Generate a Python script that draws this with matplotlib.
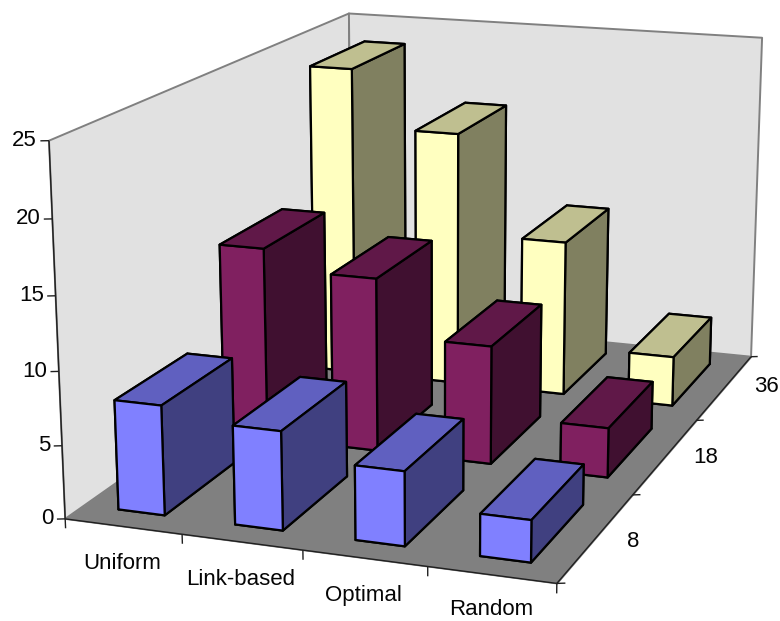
import numpy as np
import matplotlib
matplotlib.use("Agg")
import matplotlib.pyplot as plt
from mpl_toolkits.mplot3d import Axes3D
from mpl_toolkits.mplot3d.art3d import Poly3DCollection, Line3DCollection

plt.rcParams["font.family"] = ["Liberation Sans", "DejaVu Sans"]

W, H = 780, 621

methods = ["Uniform", "Link-based", "Optimal", "Random"]
series = ["8", "18", "36"]
z_ticks = [0, 5, 10, 15, 20, 25]
z_max = 25

vals_8 = [7.5, 6.7, 5.0, 2.8]
vals_18 = [13.8, 12.4, 8.4, 3.5]
vals_36 = [23.4, 19.1, 11.6, 3.7]
all_vals = [vals_8, vals_18, vals_36]

front_cols = ["#8080FF", "#802060", "#FFFFC0"]
top_cols = ["#6060C0", "#601848", "#BFBF90"]
side_cols = ["#404080", "#401030", "#808060"]

nx, ny = len(methods), len(series)

# box corners (data) and where they land on the canvas
box_pts = [(0, 0, 0), (nx, 0, 0), (nx, ny, 0), (0, ny, 0),
           (0, 0, z_max), (0, ny, z_max), (nx, ny, z_max)]
img_pts = [(65, 518), (557, 584), (751, 356), (352, 318),
           (49, 141), (349, 13), (762, 38)]


def fit_camera(world, image):
    # plain DLT, y flipped so the canvas runs upwards
    rows = []
    for (x, y, z), (u, v) in zip(world, image):
        v = H - v
        rows.append([x, y, z, 1, 0, 0, 0, 0, -u*x, -u*y, -u*z, -u])
        rows.append([0, 0, 0, 0, x, y, z, 1, -v*x, -v*y, -v*z, -v])
    _, _, vt = np.linalg.svd(np.array(rows, dtype=float))
    p = vt[-1].reshape(3, 4)
    return p / p[2, 3]


class FixedCameraAxes(Axes3D):
    camera = None

    def get_proj(self):
        depth = [-0.10, 0.15, -0.005, 1.0]
        return np.array([self.camera[0], self.camera[1], depth, self.camera[2]])

    def apply_aspect(self, position=None):
        pass

    def to_canvas(self, x, y, z):
        px, py, w = self.camera @ np.array([x, y, z, 1.0])
        return px / w, py / w


fig = plt.figure(figsize=(W / 100, H / 100), dpi=100)
ax = FixedCameraAxes(fig, rect=(0, 0, 1, 1), computed_zorder=False)
ax.camera = fit_camera(box_pts, img_pts)
fig.add_axes(ax)
ax.set_axis_off()

# walls and floor
walls = [[(0, 0, 0), (0, ny, 0), (0, ny, z_max), (0, 0, z_max)],
         [(0, ny, 0), (nx, ny, 0), (nx, ny, z_max), (0, ny, z_max)]]
ax.add_collection3d(Poly3DCollection(walls, facecolor="#E1E1E1", edgecolor="#808080",
                                     linewidth=1.4, zorder=1))
floor = [[(0, 0, 0), (nx, 0, 0), (nx, ny, 0), (0, ny, 0)]]
ax.add_collection3d(Poly3DCollection(floor, facecolor="#808080", edgecolor="#808080",
                                     linewidth=0.8, zorder=2))

# axis lines and ticks
segs = [[(0, 0, 0), (0, 0, z_max)], [(0, 0, 0), (nx, 0, 0)], [(nx, 0, 0), (nx, ny, 0)]]
for v in z_ticks:
    segs.append([(0, 0, v), (-0.058, -0.013, v)])
for i in range(nx + 1):
    segs.append([(i, 0, 0), (i, 0, -0.65)])
for j in range(ny + 1):
    segs.append([(nx, j, 0), (nx + 0.057, j + 0.013, 0)])
ax.add_collection3d(Line3DCollection(segs, colors="#202020", linewidths=1.0, zorder=3))

txt_kw = dict(fontsize=16, color="#050505", va="center")
for v in z_ticks:
    px, py = ax.to_canvas(0, 0, v)
    ax.text2D(px - 12, py, str(v), ha="right", **txt_kw)
for i, name in enumerate(methods):
    px, py = ax.to_canvas(i + 0.5, 0, 0)
    ax.text2D(px - 1, max(py - 37.5, 11.5), name, ha="center", **txt_kw)
for j, name in enumerate(series):
    px, py = ax.to_canvas(nx, j + 0.5, 0)
    ax.text2D(px + 37 + 2.5 * j, py - 4 + 2.5 * j, name, ha="center", **txt_kw)

# bars, back row first, left to right
bx0, bdx = 0.295, 0.40
by0, bdy = 0.165, 0.66
order = 10
for j in reversed(range(ny)):
    for i in range(nx):
        # bar3d face order: -z, +z, -y, +y, -x, +x
        face_cols = [side_cols[j], top_cols[j], front_cols[j],
                     side_cols[j], side_cols[j], side_cols[j]]
        ax.bar3d(i + bx0, j + by0, 0, bdx, bdy, all_vals[j][i], color=face_cols,
                 edgecolor="black", linewidth=1.6, shade=False, zorder=order)
        order += 1

# the camera works in canvas pixels
ax.viewLim.intervalx = (0, W)
ax.viewLim.intervaly = (0, H)

fig.savefig("out.png", dpi=100)
